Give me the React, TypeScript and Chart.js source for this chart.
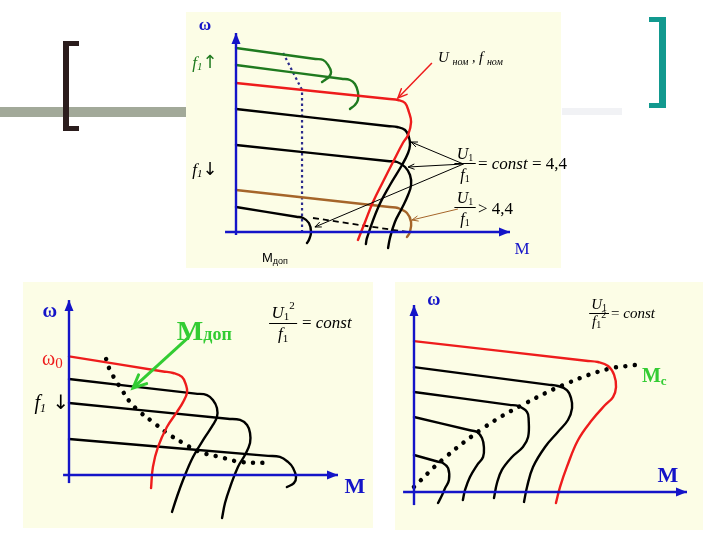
import React, { useEffect, useRef } from "react";
import { Chart, registerables } from "chart.js";

Chart.register(...registerables);

type P = [number, number];

// ===== Panel 1: U1/f1 = const (M and ω in % of axis length) =====
const p1AxisOmega: P[] = [[0, -1.5], [0, 99.5]];
const p1AxisM: P[] = [[-4, 0], [100, 0]];
const p1Green1: P[] = [[0, 92], [29, 86.5], [31.8, 86], [33.6, 83.5], [34.7, 80], [33.9, 77.5], [32.5, 76], [31.4, 75]];
const p1Green2: P[] = [[0, 83.5], [38.5, 76.6], [41.6, 76], [43.4, 74], [44.5, 70], [44.5, 66], [43.4, 63.5], [41.6, 61.5]];
const p1Red: P[] = [[0, 74.5], [56, 66.5], [59.1, 66], [61.7, 64.5], [63.1, 60], [63.9, 55], [62.8, 48.5], [60.9, 44.5], [57.3, 35], [53.6, 25], [50, 15], [47.1, 5], [44.5, -4]];
const p1Black1: P[] = [[0, 61.5], [56, 52.9], [58.8, 52.5], [61.7, 51], [63.1, 47.5], [63.5, 43.5], [62.8, 39.5], [60.6, 33.5], [56.2, 23.5], [51.8, 12], [47.8, -3], [47.4, -6]];
const p1Black2: P[] = [[0, 43.5], [56, 35.4], [58.8, 35], [61.7, 32.5], [63.5, 28.5], [63.9, 23.5], [62.8, 18.5], [60.6, 12], [58, 5], [56.2, -3], [55.5, -8]];
const p1Brown: P[] = [[0, 21], [56, 12.5], [59.1, 12], [62.4, 9.5], [63.9, 5], [63.5, 0], [62.4, -2.5]];
const p1Black3: P[] = [[0, 12.5], [22, 7.6], [24.5, 7], [26.6, 4.5], [27.4, 0], [26.6, -4], [25.9, -5.5]];
const p1Mdop: P[] = [[17.2, 89.5], [24.1, 71], [24.1, 0]];
const p1Dashed: P[] = [[28.1, 7], [62.4, 0]];
const p1RedArrow: P[] = [[71.5, 84.5], [59.1, 67]];
const p1ArrowA: P[] = [[83, 34], [63.9, 45]];
const p1ArrowB: P[] = [[83, 34], [62.8, 32.5]];
const p1ArrowC: P[] = [[83, 34], [28.8, 2.5]];
const p1BrownArrow: P[] = [[81, 11.5], [64.2, 6]];

// ===== Panel 2: U1^2/f1 = const =====
const p2AxisOmega: P[] = [[0, -4.7], [0, 101.7]];
const p2AxisM: P[] = [[-2.2, 0], [100, 0]];
const p2Red: P[] = [[0, 69], [35, 60.2], [38.7, 59.3], [42, 57], [43.5, 52.3], [43.9, 48], [42.4, 42.4], [40.1, 36.6], [36.4, 27.9], [33.1, 16.3], [31.2, 4.7], [30.5, -7.6]];
const p2Black1: P[] = [[0, 55.8], [47, 47.3], [51.3, 46.5], [53.5, 43.6], [55, 39], [55, 33.7], [53.5, 29.1], [50.6, 22.1], [46.1, 10.5], [42.4, -2.9], [40.1, -12.8], [38.3, -21.5]];
const p2Black2: P[] = [[0, 41.9], [59, 32.7], [63.6, 32], [66.2, 29.1], [67.3, 24.4], [67.3, 18.6], [65.4, 11.6], [62.8, 4.7], [59.9, -7], [58, -16.3], [56.9, -25]];
const p2Black3: P[] = [[0, 20.9], [74, 11.1], [78.4, 10.5], [81.4, 7.6], [83.3, 4.1], [84.4, -1.2], [83.6, -4.7], [81, -7]];
const p2Mdop: P[] = [[13.8, 67.4], [15.2, 61], [17.8, 54], [19.7, 49.4], [22.7, 42.4], [26.4, 36.6], [31.2, 30.8], [36.4, 24.4], [42.4, 18.6], [48.7, 13.4], [56.1, 10.5], [63.6, 7.6], [72.9, 7]];
const p2GreenArrow: P[] = [[44.2, 79.7], [23.8, 50.6]];

// ===== Panel 3: U1/f1^2 = const =====
const p3AxisOmega: P[] = [[0, -7], [0, 100]];
const p3AxisM: P[] = [[-4, 0], [100, 0]];
const p3Red: P[] = [[0, 80.7], [63, 70.2], [67.4, 69.5], [71.1, 67.4], [73.3, 62.6], [74, 56.1], [72.9, 50.8], [70, 46.5], [65.2, 38.5], [60.1, 27.8], [56, 13.4], [53.5, 2.7], [52, -5.9]];
const p3Black1: P[] = [[0, 66.8], [49, 57.4], [52.7, 56.7], [56, 54.5], [57.5, 50.3], [57.9, 44.9], [56.4, 38.5], [52.7, 32.1], [48, 24.1], [43.6, 13.4], [41.4, 2.7], [40.3, -5.3]];
const p3Black2: P[] = [[0, 53.5], [35, 46.6], [38.1, 46], [41.4, 42.8], [42, 38.5], [41.8, 29.4], [39.9, 24.1], [35.9, 18.7], [32.2, 11.8], [30.4, 4.8], [29.3, -3.2]];
const p3Black3: P[] = [[0, 40.1], [20.5, 33], [23.1, 32.1], [24.9, 28.9], [25.6, 24.1], [25.3, 18.7], [23.1, 14.4], [20.5, 8], [18.7, 1.1], [17.9, -4.3]];
const p3Black4: P[] = [[0, 19.8], [8.5, 16.3], [10.6, 15.5], [12.5, 12.8], [12.8, 6.4], [11.4, 2.1], [10.3, -1.6], [8.8, -5.9]];
const p3Mc: P[] = [[0, 2.7], [10.3, 17.1], [26, 34.8], [39.6, 46.5], [56.4, 58.3], [71.1, 65.8], [81, 67.9]];

// ===== styles =====
const BLUE = "#1414c8";
const RED = "#ee1c1c";
const DKGREEN = "#1f7a1f";
const BROWN = "#a5652a";
const NAVY = "#2b2b8c";
const LGREEN = "#33cc33";
const PANEL_BG = "#fcfde6";
const SERIF = '"Liberation Serif", "DejaVu Serif", serif';
const SANS = '"Liberation Sans", "DejaVu Sans", sans-serif';
const ARROWF = '"DejaVu Sans", sans-serif';
const it = (s: number) => `italic ${s}px ${SERIF}`;
const rg = (s: number) => `${s}px ${SERIF}`;
const bd = (s: number) => `bold ${s}px ${SERIF}`;
const ar = (s: number) => `${s}px ${ARROWF}`;

type Part = { t: string; f: string; c?: string; dy?: number };
type Txt = { x: number; y: number; parts: Part[]; align?: "left" | "center"; color?: string };
type Frac = { x: number; yNum: number; yBar: number; yDen: number; num: Part[]; den: Part[]; color?: string };

function partsWidth(ctx: CanvasRenderingContext2D, parts: Part[]) {
  let w = 0;
  for (const p of parts) {
    ctx.font = p.f;
    w += ctx.measureText(p.t).width;
  }
  return w;
}

function drawParts(ctx: CanvasRenderingContext2D, parts: Part[], x: number, y: number, align: string, color?: string) {
  const w = partsWidth(ctx, parts);
  let cx = align === "center" ? x - w / 2 : x;
  for (const p of parts) {
    ctx.font = p.f;
    ctx.fillStyle = p.c || color || "#000";
    ctx.fillText(p.t, cx, y + (p.dy || 0));
    cx += ctx.measureText(p.t).width;
  }
  return w;
}

function makeAnnot(texts: Txt[], fracs: Frac[]) {
  return {
    id: "annot",
    afterDatasetsDraw(chart: any) {
      const ctx: CanvasRenderingContext2D = chart.ctx;
      const xs = chart.scales.x;
      const ys = chart.scales.y;
      ctx.save();
      chart.data.datasets.forEach((ds: any, i: number) => {
        const a = ds.arrow;
        if (!a) return;
        const pts = chart.getDatasetMeta(i).data;
        const p0 = pts[pts.length - 2];
        const p1 = pts[pts.length - 1];
        const ang = Math.atan2(p1.y - p0.y, p1.x - p0.x);
        const c = Math.cos(ang);
        const s = Math.sin(ang);
        const bx = p1.x - a.len * c;
        const by = p1.y - a.len * s;
        const lx = bx + (a.w / 2) * s;
        const ly = by - (a.w / 2) * c;
        const rx = bx - (a.w / 2) * s;
        const ry = by + (a.w / 2) * c;
        ctx.beginPath();
        ctx.setLineDash([]);
        if (a.open) {
          ctx.moveTo(lx, ly);
          ctx.lineTo(p1.x, p1.y);
          ctx.lineTo(rx, ry);
          ctx.strokeStyle = ds.borderColor;
          ctx.lineWidth = a.lw || ds.borderWidth;
          ctx.lineCap = "round";
          ctx.lineJoin = "miter";
          ctx.stroke();
        } else {
          ctx.moveTo(p1.x, p1.y);
          ctx.lineTo(lx, ly);
          ctx.lineTo(rx, ry);
          ctx.closePath();
          ctx.fillStyle = ds.borderColor;
          ctx.fill();
        }
      });
      ctx.textBaseline = "alphabetic";
      ctx.textAlign = "left";
      for (const t of texts) {
        drawParts(ctx, t.parts, xs.getPixelForValue(t.x), ys.getPixelForValue(t.y), t.align || "left", t.color);
      }
      for (const f of fracs) {
        const px = xs.getPixelForValue(f.x);
        const wn = partsWidth(ctx, f.num);
        const wd = partsWidth(ctx, f.den);
        drawParts(ctx, f.num, px, ys.getPixelForValue(f.yNum), "center", f.color);
        drawParts(ctx, f.den, px, ys.getPixelForValue(f.yDen), "center", f.color);
        const bw = Math.max(wn, wd) + 4;
        const by = Math.round(ys.getPixelForValue(f.yBar)) + 0.5;
        ctx.beginPath();
        ctx.moveTo(px - bw / 2, by);
        ctx.lineTo(px + bw / 2, by);
        ctx.strokeStyle = f.color || "#000";
        ctx.lineWidth = 1;
        ctx.stroke();
      }
      ctx.restore();
    },
  };
}

const line = (pts: P[], color: string, width: number, extra: any = {}) => ({
  data: pts.map(([x, y]) => ({ x, y })),
  borderColor: color,
  backgroundColor: color,
  borderWidth: width,
  showLine: true,
  pointRadius: 0,
  pointHoverRadius: 0,
  tension: 0,
  fill: false,
  ...extra,
});
const curve = (pts: P[], color: string, width = 2.4) =>
  line(pts, color, width, { tension: 0.4, borderJoinStyle: "round", borderCapStyle: "round" });
const axis = (pts: P[]) => line(pts, BLUE, 2.4, { arrow: { len: 11, w: 9 } });
const dots = (pts: P[]) => line(pts, "#000", 4.5, { tension: 0.4, borderDash: [0.01, 9.5], borderCapStyle: "round" });

type PanelCfg = {
  left: number; top: number; w: number; h: number;
  ox: number; oy: number; kx: number; ky: number;
  datasets: any[]; texts: Txt[]; fracs: Frac[];
};

const panel1: PanelCfg = {
  left: 186, top: 12, w: 386, h: 256, ox: 236, oy: 232, kx: 2.74, ky: 2,
  datasets: [
    axis(p1AxisM),
    axis(p1AxisOmega),
    line(p1RedArrow, RED, 1.5, { arrow: { len: 9, w: 8, open: true } }),
    line(p1ArrowA, "#000", 1, { arrow: { len: 6, w: 5, open: true } }),
    line(p1ArrowB, "#000", 1, { arrow: { len: 6, w: 5, open: true } }),
    line(p1ArrowC, "#000", 1, { arrow: { len: 6, w: 5, open: true } }),
    line(p1BrownArrow, BROWN, 1, { arrow: { len: 6, w: 5, open: true } }),
    curve(p1Red, RED),
    curve(p1Green1, DKGREEN),
    curve(p1Green2, DKGREEN),
    curve(p1Black1, "#000"),
    curve(p1Black2, "#000"),
    curve(p1Brown, BROWN),
    curve(p1Black3, "#000"),
    line(p1Mdop, NAVY, 2.2, { borderDash: [2.5, 3] }),
    line(p1Dashed, "#000", 1.8, { borderDash: [6, 4] }),
  ],
  texts: [
    { x: -11.3, y: 101, align: "center", parts: [{ t: "ω", f: bd(17), c: BLUE }] },
    { x: -16, y: 82, color: DKGREEN, parts: [{ t: "f", f: it(17) }, { t: "1", f: it(11), dy: 2 }, { t: "↑", f: ar(18) }] },
    { x: -16, y: 28.5, parts: [{ t: "f", f: it(17) }, { t: "1", f: it(11), dy: 2 }, { t: "↓", f: ar(18) }] },
    { x: 73.7, y: 85, parts: [{ t: "U ", f: it(15) }, { t: "ном", f: it(10), dy: 3 }, { t: " , ", f: it(14) }, { t: "f ", f: it(15) }, { t: "ном", f: it(10), dy: 3 }] },
    { x: 88.3, y: 31.5, parts: [{ t: "= ", f: rg(17) }, { t: "const", f: it(17) }, { t: " = 4,4", f: rg(17) }] },
    { x: 88.3, y: 9, parts: [{ t: "> 4,4", f: rg(17) }] },
    { x: 104.4, y: -11, align: "center", parts: [{ t: "M", f: rg(17), c: BLUE }] },
    { x: 9.5, y: -15, parts: [{ t: "М", f: `13px ${SANS}` }, { t: "доп", f: `9px ${SANS}`, dy: 2 }] },
  ],
  fracs: [
    { x: 83.6, yNum: 36.5, yBar: 34.5, yDen: 26, num: [{ t: "U", f: it(16) }, { t: "1", f: rg(10), dy: 2 }], den: [{ t: "f", f: it(16) }, { t: "1", f: rg(10), dy: 2 }] },
    { x: 83.6, yNum: 14.5, yBar: 12.5, yDen: 4, num: [{ t: "U", f: it(16) }, { t: "1", f: rg(10), dy: 2 }], den: [{ t: "f", f: it(16) }, { t: "1", f: rg(10), dy: 2 }] },
  ],
};

const panel2: PanelCfg = {
  left: 23, top: 282, w: 350, h: 246, ox: 69, oy: 475, kx: 2.69, ky: 1.72,
  datasets: [
    axis(p2AxisM),
    axis(p2AxisOmega),
    line(p2GreenArrow, LGREEN, 3, { arrow: { len: 13, w: 12, open: true, lw: 3 } }),
    curve(p2Red, RED),
    curve(p2Black1, "#000"),
    curve(p2Black2, "#000"),
    curve(p2Black3, "#000"),
    dots(p2Mdop),
  ],
  texts: [
    { x: -7.1, y: 92, align: "center", parts: [{ t: "ω", f: bd(20), c: BLUE }] },
    { x: -10, y: 64, color: RED, parts: [{ t: "ω", f: rg(20) }, { t: "0", f: rg(15), dy: 3 }] },
    { x: -12.8, y: 38.4, parts: [{ t: "f", f: it(20) }, { t: "1", f: it(12), dy: 3 }, { t: " ↓", f: ar(20) }] },
    { x: 106.3, y: -10.5, align: "center", parts: [{ t: "M", f: bd(22), c: BLUE }] },
    { x: 40.1, y: 78.5, color: LGREEN, parts: [{ t: "М", f: bd(28) }, { t: "доп", f: bd(18) }] },
    { x: 86.6, y: 85.5, parts: [{ t: "= ", f: rg(17) }, { t: "const", f: it(17) }] },
  ],
  fracs: [
    { x: 79.6, yNum: 91, yBar: 88.4, yDen: 79.1, num: [{ t: "U", f: it(17) }, { t: "1", f: rg(11), dy: 2 }, { t: "2", f: rg(11), dy: -9 }], den: [{ t: "f", f: it(17) }, { t: "1", f: rg(11), dy: 3 }] },
  ],
};

const panel3: PanelCfg = {
  left: 395, top: 282, w: 308, h: 248, ox: 414, oy: 492, kx: 2.73, ky: 1.87,
  datasets: [
    axis(p3AxisM),
    axis(p3AxisOmega),
    curve(p3Red, RED),
    curve(p3Black1, "#000"),
    curve(p3Black2, "#000"),
    curve(p3Black3, "#000"),
    curve(p3Black4, "#000"),
    dots(p3Mc),
  ],
  texts: [
    { x: 7.3, y: 100, align: "center", parts: [{ t: "ω", f: bd(18), c: BLUE }] },
    { x: 93, y: 5.3, align: "center", parts: [{ t: "M", f: bd(22), c: BLUE }] },
    { x: 83.5, y: 58.8, color: LGREEN, parts: [{ t: "М", f: bd(20) }, { t: "с", f: bd(13), dy: 3 }] },
    { x: 72.2, y: 93, parts: [{ t: "= ", f: rg(15) }, { t: "const", f: it(15) }] },
  ],
  fracs: [
    { x: 67.8, yNum: 97.6, yBar: 95.7, yDen: 88.8, num: [{ t: "U", f: it(15) }, { t: "1", f: rg(10), dy: 2 }], den: [{ t: "f", f: it(15) }, { t: "1", f: rg(10), dy: 2 }, { t: "2", f: rg(10), dy: -8 }] },
  ],
};

function Panel({ cfg }: { cfg: PanelCfg }) {
  const ref = useRef<HTMLCanvasElement | null>(null);
  useEffect(() => {
    if (!ref.current) return;
    const { left, top, w, h, ox, oy, kx, ky } = cfg;
    const chart = new Chart(ref.current, {
      type: "scatter",
      data: { datasets: cfg.datasets },
      options: {
        responsive: false,
        animation: false,
        events: [],
        layout: { padding: 0 },
        plugins: { legend: { display: false }, tooltip: { enabled: false } },
        scales: {
          x: { type: "linear", display: false, min: (left - ox) / kx, max: (left + w - ox) / kx },
          y: { type: "linear", display: false, min: (oy - (top + h)) / ky, max: (oy - top) / ky },
        },
      },
      plugins: [makeAnnot(cfg.texts, cfg.fracs)],
    } as any);
    return () => chart.destroy();
  }, [cfg]);
  return (
    <canvas
      ref={ref}
      width={cfg.w}
      height={cfg.h}
      style={{ position: "absolute", left: cfg.left, top: cfg.top, width: cfg.w, height: cfg.h, display: "block" }}
    />
  );
}

const box = (left: number, top: number, width: number, height: number, background: string) => (
  <div style={{ position: "absolute", left, top, width, height, background }} />
);

export default function App() {
  return (
    <div style={{ position: "absolute", left: 0, top: 0, width: 720, height: 540, background: "#fff", overflow: "hidden" }}>
      {box(0, 107, 186, 10, "#a2a999")}
      {box(562, 108, 60, 7, "#f1f2f5")}
      {box(63, 41, 6, 90, "#2b1d1d")}
      {box(63, 41, 16, 5, "#2b1d1d")}
      {box(63, 126, 16, 5, "#2b1d1d")}
      {box(659, 17, 7, 91, "#12998f")}
      {box(649, 17, 17, 5, "#12998f")}
      {box(649, 103, 17, 5, "#12998f")}
      {box(186, 12, 375, 256, PANEL_BG)}
      {box(23, 282, 350, 246, PANEL_BG)}
      {box(395, 282, 308, 248, PANEL_BG)}
      <Panel cfg={panel1} />
      <Panel cfg={panel2} />
      <Panel cfg={panel3} />
    </div>
  );
}
